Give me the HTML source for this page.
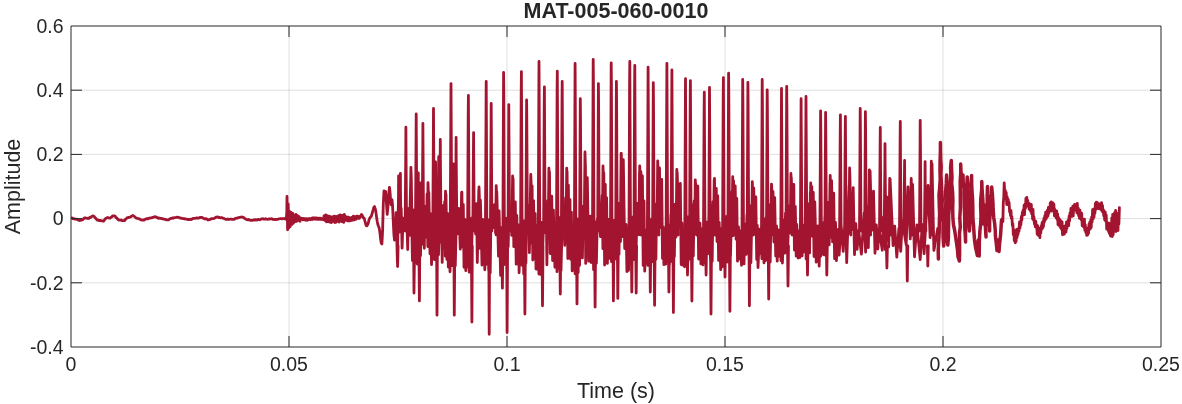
<!DOCTYPE html><html><head><meta charset="utf-8"><title>MAT-005-060-0010</title><style>html,body{margin:0;padding:0;background:#fff;overflow:hidden}svg{display:block}body{font-family:"Liberation Sans",sans-serif}</style></head><body><svg width="1182" height="404" viewBox="0 0 1182 404">
<rect width="1182" height="404" fill="#fff"/>
<path d="M289.0 26 V347 M507.0 26 V347 M725.0 26 V347 M943.0 26 V347 M71 90.2 H1161 M71 154.4 H1161 M71 218.6 H1161 M71 282.8 H1161" stroke="#262626" stroke-opacity="0.15" stroke-width="1" fill="none"/>
<defs><clipPath id="cp"><rect x="71" y="26" width="1090" height="321"/></clipPath></defs><g clip-path="url(#cp)">
<path d="M71.0 217.8 L72.0 217.8 L73.0 218.7 L74.0 218.7 L75.0 219.2 L75.9 219.2 L76.8 219.2 L77.7 219.9 L78.5 219.9 L79.4 220.5 L80.3 220.3 L81.2 220.1 L82.1 219.9 L83.0 219.5 L83.9 218.3 L84.8 217.9 L85.7 218.0 L86.5 218.3 L87.2 218.3 L88.0 218.2 L88.9 218.5 L89.7 217.5 L90.6 217.5 L91.5 216.6 L92.3 216.1 L93.2 215.9 L94.1 216.4 L95.1 217.8 L96.0 218.6 L97.0 219.9 L97.9 220.3 L98.8 220.2 L99.8 220.6 L100.7 220.5 L101.7 220.8 L102.6 221.0 L103.6 221.0 L104.5 219.9 L105.5 218.7 L106.4 218.0 L107.4 217.6 L108.3 217.6 L109.1 218.1 L110.0 218.1 L110.9 217.5 L111.8 216.8 L112.6 215.9 L113.5 215.8 L114.4 215.9 L115.2 216.2 L116.1 217.7 L116.9 218.1 L117.8 219.3 L118.6 220.1 L119.5 220.0 L120.3 220.2 L121.1 220.0 L122.0 220.6 L122.8 220.7 L123.6 220.7 L124.5 220.6 L125.4 219.4 L126.2 218.7 L127.1 217.9 L128.0 217.6 L128.8 217.4 L129.7 217.3 L130.5 217.0 L131.3 216.2 L132.2 216.0 L133.0 215.5 L133.8 216.1 L134.7 216.6 L135.5 217.5 L136.3 218.1 L137.2 218.3 L138.0 218.5 L138.9 218.9 L139.8 218.9 L140.7 219.8 L141.6 220.0 L142.5 220.1 L143.4 220.0 L144.3 220.1 L145.2 219.2 L146.2 218.8 L147.1 218.6 L148.0 218.8 L149.0 218.1 L149.9 218.2 L150.9 217.9 L151.8 217.8 L152.8 217.4 L153.7 217.2 L154.7 216.7 L155.6 216.9 L156.5 217.1 L157.4 217.8 L158.3 218.3 L159.2 218.0 L160.1 218.3 L161.0 218.4 L161.8 218.5 L162.7 218.8 L163.5 219.2 L164.4 219.2 L165.2 219.3 L166.1 219.8 L166.9 219.8 L167.8 219.8 L168.6 219.8 L169.4 219.2 L170.3 218.6 L171.2 218.4 L172.0 218.3 L172.9 217.8 L173.8 218.1 L174.6 217.7 L175.5 217.5 L176.4 217.3 L177.3 217.1 L178.3 217.3 L179.2 217.5 L180.2 218.2 L181.1 218.2 L182.1 218.4 L183.0 218.6 L183.9 218.6 L184.8 218.9 L185.8 219.0 L186.7 219.2 L187.6 219.5 L188.5 219.5 L189.4 219.6 L190.4 219.2 L191.3 219.5 L192.2 219.0 L193.1 218.4 L194.1 218.3 L195.0 218.3 L195.9 218.2 L196.9 217.9 L197.8 218.2 L198.8 218.1 L199.8 217.5 L200.7 217.5 L201.6 217.3 L202.4 217.7 L203.3 218.2 L204.1 218.5 L205.0 219.0 L206.0 218.7 L206.9 219.0 L207.9 220.0 L208.9 219.8 L209.7 219.4 L210.5 219.3 L211.4 218.6 L212.2 218.6 L213.0 218.7 L214.0 218.5 L215.0 217.9 L216.0 217.1 L217.0 217.0 L217.8 216.9 L218.7 217.5 L219.5 217.5 L220.3 217.8 L221.2 217.6 L222.0 217.6 L222.8 218.1 L223.7 218.5 L224.5 218.7 L225.3 219.1 L226.2 219.3 L227.0 219.4 L227.8 219.0 L228.7 219.3 L229.5 219.3 L230.3 219.2 L231.2 219.2 L232.0 219.4 L232.9 219.3 L233.7 219.4 L234.6 219.1 L235.4 218.3 L236.3 218.3 L237.1 218.0 L238.0 217.9 L238.8 217.5 L239.7 217.3 L240.5 217.2 L241.3 217.1 L242.2 217.0 L243.0 217.3 L244.0 217.8 L245.0 218.6 L246.0 219.2 L247.0 219.7 L247.8 219.8 L248.7 219.5 L249.5 220.0 L250.3 220.3 L251.2 220.4 L252.0 220.4 L252.9 220.2 L253.7 219.9 L254.6 220.2 L255.4 219.7 L256.3 219.9 L257.1 220.0 L258.0 219.5 L258.9 219.5 L259.7 219.8 L260.6 219.5 L261.4 218.9 L262.3 218.8 L263.1 218.7 L264.0 219.2 L264.9 219.1 L265.7 218.7 L266.6 219.2 L267.4 219.3 L268.3 219.1 L269.1 218.9 L270.0 219.0 L270.9 218.8 L271.7 218.7 L272.6 219.4 L273.4 219.3 L274.3 219.3 L275.1 219.6 L276.0 219.3 L276.9 219.5 L277.7 219.4 L278.6 218.9 L279.4 218.8 L280.3 218.7 L281.1 218.6 L282.0 218.9 L282.9 218.6 L283.7 218.7 L284.6 218.5 L285.4 219.1 L286.3 218.8 L286.8 212.0 L287.0 196.3 L287.6 229.8 L288.2 204.0 L288.8 228.0 L289.4 211.1 L290.2 226.6 L291.1 212.4 L292.0 224.3 L292.9 213.4 L293.5 223.1 L294.2 215.9 L295.1 221.5 L295.9 214.5 L296.7 221.3 L297.5 215.6 L298.4 220.4 L299.2 216.7 L300.0 221.3 L300.0 218.0 L300.9 219.6 L301.7 218.2 L302.5 219.7 L303.3 218.5 L304.1 219.9 L305.1 218.6 L306.0 220.3 L306.7 218.7 L307.7 220.2 L308.3 218.8 L309.1 219.6 L309.8 218.6 L310.7 219.7 L311.6 218.3 L312.5 219.4 L313.2 217.7 L314.1 219.0 L315.1 217.8 L315.9 219.3 L316.8 217.9 L317.6 219.2 L318.3 218.1 L319.0 219.4 L319.7 218.1 L320.5 219.3 L321.2 218.3 L322.0 219.6 L323.0 218.5 L323.9 219.8 L324.0 216.0 L324.9 220.6 L325.6 214.9 L326.5 221.9 L327.2 215.6 L328.2 221.5 L329.0 216.2 L329.7 222.2 L330.5 216.6 L331.4 222.5 L332.3 217.0 L333.2 221.4 L334.1 216.2 L334.9 222.6 L335.8 216.5 L336.5 222.2 L337.2 216.5 L337.9 220.7 L338.6 215.6 L339.3 222.0 L340.1 214.8 L340.8 220.8 L341.4 215.3 L342.1 221.7 L342.9 215.5 L343.7 222.4 L344.3 214.3 L345.0 216.6 L345.9 220.4 L346.7 216.8 L347.7 220.8 L348.6 217.1 L349.4 221.0 L350.2 218.0 L350.8 220.5 L351.7 217.5 L352.4 220.2 L353.3 216.2 L354.2 220.0 L354.9 216.6 L355.7 219.4 L356.5 216.4 L357.0 215.9 L357.8 218.4 L358.8 216.5 L359.5 218.2 L361.5 214.4 L362.2 215.3 L362.8 216.8 L363.5 218.0 L364.2 218.3 L364.8 220.7 L365.5 223.1 L366.1 225.5 L366.8 225.9 L367.5 225.0 L368.3 223.0 L369.0 220.0 L369.8 218.0 L370.5 217.0 L371.2 216.6 L371.8 214.6 L372.5 212.1 L373.2 209.7 L373.8 207.4 L374.5 206.6 L375.2 208.6 L375.8 211.2 L376.5 216.6 L377.2 221.3 L377.8 224.3 L378.5 226.3 L379.2 228.1 L379.9 232.4 L380.5 238.2 L381.2 242.9 L381.9 243.9 L382.6 230.9 L383.3 204.0 L384.0 190.8 L385.0 196.3 L385.6 191.3 L386.4 202.6 L387.2 214.4 L387.9 207.6 L388.7 194.4 L389.4 187.3 L390.0 191.5 L390.6 200.3 L391.2 204.9 L392.0 199.6 L392.6 206.2 L393.2 220.1 L393.9 234.3 L394.5 240.0 L394.5 221.8 L395.4 239.0 L396.1 212.6 L397.4 262.7 L398.3 206.3 L399.2 232.1 L399.8 206.0 L400.5 224.7 L401.2 208.5 L402.1 248.1 L403.0 218.1 L404.4 227.5 L405.3 216.4 L406.1 228.0 L406.7 215.6 L407.7 249.5 L408.4 208.6 L409.4 235.4 L410.9 171.6 L412.4 260.6 L413.3 209.9 L414.1 283.0 L415.0 219.8 L415.7 262.3 L416.7 207.2 L417.4 264.2 L418.0 204.7 L419.0 261.6 L419.9 223.8 L420.5 255.7 L421.2 214.3 L421.9 244.3 L423.5 210.5 L424.3 248.3 L424.9 206.5 L426.2 237.2 L427.1 194.2 L427.8 246.6 L428.8 192.3 L430.0 253.8 L430.9 213.9 L431.5 264.6 L433.1 218.6 L434.5 259.7 L435.3 201.7 L436.9 263.9 L437.6 218.8 L438.5 254.8 L440.0 205.8 L440.7 242.0 L441.4 206.3 L442.2 262.4 L443.0 205.6 L443.7 242.9 L444.7 201.7 L445.3 256.2 L446.0 194.5 L446.9 259.4 L447.7 213.6 L448.3 267.1 L449.2 222.8 L450.0 271.8 L451.0 224.0 L452.3 265.7 L453.0 222.3 L453.7 265.7 L454.5 222.2 L455.3 265.6 L456.6 208.4 L457.3 233.8 L458.9 208.5 L460.3 249.2 L461.9 192.2 L462.6 247.0 L463.3 204.5 L464.0 267.3 L464.9 219.4 L465.8 270.7 L466.4 227.8 L467.4 266.9 L468.3 222.9 L469.2 272.2 L469.8 218.2 L471.1 272.0 L472.5 217.2 L474.1 226.1 L474.8 206.0 L475.6 234.0 L476.6 203.6 L477.3 262.5 L478.8 189.6 L479.5 248.3 L480.4 200.2 L482.0 265.1 L482.7 219.5 L483.3 263.9 L484.0 225.5 L484.8 269.8 L486.5 226.4 L487.1 264.2 L488.0 219.7 L488.7 270.4 L489.6 221.7 L490.2 273.1 L491.0 213.4 L491.7 226.0 L492.3 209.3 L493.0 227.8 L494.5 204.7 L496.1 234.9 L496.8 191.9 L498.5 256.1 L499.1 210.9 L500.6 275.4 L501.5 227.6 L502.4 288.2 L503.2 226.6 L504.0 264.7 L504.6 222.0 L505.3 263.1 L506.2 218.4 L506.8 272.5 L507.4 217.8 L508.2 246.6 L508.9 213.5 L509.6 226.7 L511.0 206.3 L511.7 235.4 L513.1 178.6 L513.8 246.7 L515.3 201.8 L516.2 264.2 L516.8 215.3 L517.7 263.8 L518.4 224.8 L519.1 272.8 L520.4 227.9 L522.1 265.4 L523.0 222.4 L523.7 274.1 L524.6 220.6 L525.9 263.3 L526.6 214.6 L528.0 225.6 L528.7 205.4 L529.4 252.7 L530.7 177.3 L531.3 243.0 L532.1 185.8 L532.8 260.1 L533.6 200.6 L534.3 258.9 L535.1 213.4 L536.0 269.0 L536.7 225.6 L537.5 269.3 L538.3 224.9 L538.9 274.1 L539.7 220.4 L540.4 274.4 L541.3 222.5 L542.2 265.3 L543.7 218.9 L545.0 232.5 L546.3 205.3 L546.9 264.8 L547.8 200.6 L548.7 226.2 L549.5 171.9 L550.2 253.6 L551.7 196.1 L552.6 260.5 L553.4 210.1 L554.9 267.3 L556.2 230.7 L557.0 271.7 L557.9 223.2 L558.8 268.3 L559.6 217.7 L561.0 270.7 L562.5 212.2 L563.1 223.4 L563.9 205.7 L564.8 245.4 L565.7 198.0 L566.4 226.2 L567.1 171.5 L567.8 258.6 L568.4 185.2 L569.1 257.9 L570.0 199.7 L570.6 259.3 L571.4 212.1 L572.2 270.9 L572.9 229.6 L573.7 265.4 L574.3 228.8 L575.1 273.8 L575.8 223.3 L576.6 272.8 L577.3 219.0 L578.2 272.4 L578.8 221.7 L579.6 265.4 L580.2 211.3 L580.9 227.0 L581.7 207.7 L582.4 257.9 L583.3 206.1 L584.1 238.4 L585.0 151.9 L585.7 263.4 L587.3 177.7 L588.7 261.2 L590.2 216.1 L591.1 262.5 L592.7 228.2 L593.6 269.8 L594.2 222.1 L595.2 264.7 L595.8 222.1 L596.4 263.3 L597.3 219.2 L598.1 223.8 L598.9 212.2 L600.5 236.6 L602.2 195.4 L602.9 248.7 L603.8 173.0 L604.6 265.0 L605.3 184.3 L605.9 262.8 L606.6 197.6 L607.4 263.4 L608.3 219.3 L609.9 258.4 L610.6 228.9 L611.5 261.7 L612.4 221.9 L613.7 255.0 L614.6 220.2 L615.3 259.1 L616.0 211.9 L616.9 254.6 L618.3 203.1 L619.0 254.2 L619.7 204.8 L620.5 241.6 L621.3 153.5 L622.6 236.7 L623.3 159.7 L624.7 248.6 L626.1 224.3 L626.9 271.6 L627.7 228.1 L628.6 270.4 L629.2 227.2 L630.0 257.3 L630.9 222.7 L631.6 263.4 L633.0 216.9 L633.7 259.6 L634.4 210.8 L636.0 253.2 L637.3 203.5 L638.9 234.8 L639.5 172.5 L640.2 230.7 L640.9 171.6 L641.7 234.9 L642.4 175.9 L643.2 265.4 L644.0 200.9 L644.7 271.2 L646.3 230.0 L647.9 265.4 L648.6 226.0 L649.3 264.4 L650.1 220.9 L650.9 262.5 L651.7 218.9 L652.6 261.7 L653.3 212.5 L654.1 253.7 L655.1 204.7 L655.9 259.3 L656.6 203.8 L658.1 230.9 L659.5 167.9 L660.3 227.5 L661.7 179.3 L662.5 258.4 L663.2 226.8 L663.9 264.6 L664.9 229.1 L665.7 264.1 L666.4 228.8 L667.9 260.6 L668.6 225.2 L669.4 264.8 L670.9 214.0 L671.5 261.4 L672.4 207.2 L673.1 257.1 L673.7 205.7 L674.4 256.5 L675.1 204.2 L675.9 237.1 L677.2 172.4 L678.8 227.7 L680.3 183.3 L681.2 264.6 L681.9 223.0 L682.7 265.2 L683.6 230.5 L684.6 266.8 L685.4 228.5 L686.3 257.4 L687.1 224.3 L688.0 261.7 L688.7 216.7 L689.3 259.1 L690.1 212.3 L691.0 251.6 L692.4 204.8 L693.3 256.1 L694.2 200.9 L695.1 226.3 L695.9 184.2 L696.9 232.6 L697.8 186.1 L698.6 259.0 L700.0 223.2 L700.9 263.9 L701.6 229.0 L703.0 264.9 L703.8 226.3 L704.7 262.9 L705.4 223.1 L706.2 262.6 L706.9 222.2 L708.3 253.5 L708.9 211.0 L710.5 259.7 L711.4 205.1 L712.2 261.2 L713.0 201.7 L713.8 235.2 L714.5 178.5 L715.4 233.9 L716.3 188.5 L717.0 241.6 L717.7 195.7 L718.6 260.4 L719.2 222.4 L720.7 269.7 L721.3 228.4 L722.3 266.8 L723.0 225.1 L723.7 256.8 L724.3 225.4 L725.2 256.1 L726.5 216.4 L727.2 262.0 L727.8 214.8 L728.7 260.0 L729.6 207.5 L730.5 255.6 L732.1 191.3 L732.9 235.8 L733.6 180.9 L734.5 231.8 L735.2 185.8 L736.1 239.3 L736.8 198.5 L737.5 261.2 L738.5 226.9 L739.2 259.2 L740.7 230.6 L741.5 265.3 L743.1 224.6 L744.0 263.9 L744.8 224.0 L746.2 254.4 L746.9 214.8 L748.6 252.1 L750.2 205.9 L750.9 262.6 L752.4 184.1 L753.1 232.6 L753.7 187.8 L755.1 233.3 L755.8 196.8 L756.7 259.6 L757.3 225.5 L758.0 267.6 L759.7 229.1 L760.5 253.4 L761.1 229.5 L761.9 258.6 L762.6 223.3 L764.0 262.9 L764.9 218.9 L765.6 260.5 L766.2 217.3 L767.7 258.3 L768.6 204.6 L770.2 262.0 L771.5 184.1 L772.2 230.0 L773.0 191.5 L773.9 242.0 L774.7 197.6 L775.7 256.1 L776.5 225.9 L777.2 261.2 L778.2 229.8 L778.8 256.3 L779.7 231.0 L781.0 260.7 L781.8 228.2 L782.4 263.0 L784.0 220.2 L784.8 253.2 L785.5 213.2 L786.2 250.7 L787.0 206.5 L787.7 248.3 L789.1 206.1 L790.7 230.7 L791.3 177.2 L792.9 234.4 L793.8 184.5 L794.4 250.1 L795.3 206.5 L796.2 256.2 L796.8 224.5 L798.2 258.0 L798.9 231.0 L799.9 257.5 L801.4 224.2 L802.1 255.9 L802.8 225.2 L804.5 251.8 L805.4 211.1 L806.1 259.0 L807.0 205.5 L807.6 258.2 L808.3 203.9 L809.6 252.9 L810.3 192.5 L811.0 230.0 L811.8 186.6 L812.4 236.3 L813.3 192.5 L814.0 256.6 L814.8 201.9 L816.2 262.1 L817.7 225.9 L819.2 266.1 L820.0 229.3 L820.7 256.3 L821.3 225.0 L822.2 254.1 L823.2 222.9 L824.1 254.9 L824.9 215.7 L826.6 254.1 L827.5 202.1 L829.2 244.8 L830.0 182.4 L830.8 237.4 L831.6 180.7 L832.6 241.9 L833.7 193.2 L834.6 258.7 L835.5 222.5 L836.4 260.6 L838.2 229.4 L839.1 255.2 L841.1 224.5 L843.2 251.4 L845.6 209.0 L846.7 262.7 L849.2 185.7 L851.7 229.6 L853.2 187.6 L854.5 254.6 L855.8 223.6 L857.1 249.3 L858.7 230.4 L861.4 254.1 L864.3 212.6 L865.6 252.2 L867.0 206.7 L868.3 247.7 L870.1 171.1 L871.7 230.4 L873.5 191.1 L875.0 253.3 L876.3 224.9 L877.8 249.0 L879.1 229.0 L882.3 250.2 L883.7 216.8 L885.4 249.7 L887.0 197.1 L888.7 247.0 L890.1 179.0 L893.1 245.6 L894.7 226.2 L896.8 257.1 L898.9 228.7 L900.7 251.3 L902.3 220.9 L906.2 244.7 L908.0 186.9 L910.3 238.9 L912.6 184.4 L914.5 256.8 L916.9 224.9 L920.2 259.5 L922.2 224.5 L924.1 253.6 L928.1 185.5 L930.1 237.7 L932.0 163.8 L933.9 250.4 L937.7 228.4 M397.2 246.0 L397.6 266.5 L398.1 246.0 M397.9 231.0 L398.5 196.0 L398.6 176.0 L398.8 196.0 L399.4 231.0 M399.6 231.0 L400.2 193.3 L400.4 173.3 L400.5 193.3 L401.1 231.0 M405.1 231.0 L405.8 147.2 L405.9 127.2 L406.0 147.2 L406.6 231.0 M410.2 233.0 L410.9 167.3 L411.3 178.3 L412.1 235.0 M413.6 246.0 L414.0 293.0 L414.4 246.0 M415.4 231.0 L416.1 134.0 L416.2 114.0 L416.3 134.0 L416.9 231.0 M417.6 231.0 L418.2 193.0 L418.3 173.0 L418.4 193.0 L419.1 231.0 M418.9 246.0 L419.4 300.9 L419.8 246.0 M420.1 231.0 L420.7 203.0 L420.8 183.0 L420.9 203.0 L421.6 231.0 M422.1 231.0 L422.8 143.3 L422.9 123.3 L423.0 143.3 L423.6 231.0 M427.3 233.0 L428.0 182.6 L428.4 193.6 L429.2 235.0 M432.8 231.0 L433.4 128.4 L433.5 108.4 L433.6 128.4 L434.2 231.0 M434.9 231.0 L435.5 182.0 L435.6 162.0 L435.8 182.0 L436.4 231.0 M436.6 246.0 L437.0 315.2 L437.4 246.0 M437.9 231.0 L438.6 176.6 L438.7 156.6 L438.8 176.6 L439.4 231.0 M439.6 231.0 L440.2 159.4 L440.3 139.4 L440.4 159.4 L441.1 231.0 M444.8 233.0 L445.5 191.2 L445.9 202.2 L446.7 235.0 M450.2 231.0 L450.9 103.6 L451.0 83.6 L451.1 103.6 L451.8 231.0 M452.9 231.0 L453.5 184.0 L453.6 164.0 L453.8 184.0 L454.4 231.0 M453.9 246.0 L454.3 315.2 L454.8 246.0 M455.4 231.0 L456.0 157.3 L456.1 137.3 L456.2 157.3 L456.9 231.0 M460.9 233.0 L461.6 192.5 L462.0 203.5 L462.8 235.0 M467.6 231.0 L468.2 115.5 L468.4 95.5 L468.5 115.5 L469.1 231.0 M471.4 246.0 L471.9 322.0 L472.3 246.0 M472.8 231.0 L473.4 152.6 L473.6 132.6 L473.7 152.6 L474.3 231.0 M478.3 233.0 L479.0 187.0 L479.4 198.0 L480.2 235.0 M485.4 231.0 L486.1 101.3 L486.2 81.3 L486.3 101.3 L486.9 231.0 M488.8 246.0 L489.2 334.3 L489.6 246.0 M490.4 231.0 L491.1 123.4 L491.2 103.4 L491.3 123.4 L491.9 231.0 M495.5 233.0 L496.2 185.6 L496.6 196.6 L497.4 235.0 M502.9 231.0 L503.5 92.4 L503.6 72.4 L503.8 92.4 L504.4 231.0 M506.7 246.0 L507.1 332.6 L507.6 246.0 M508.1 231.0 L508.7 124.6 L508.8 104.6 L508.9 124.6 L509.6 231.0 M511.9 233.0 L512.6 176.0 L513.0 187.0 L513.8 235.0 M520.6 231.0 L521.2 91.7 L521.4 71.7 L521.5 91.7 L522.1 231.0 M524.4 246.0 L524.9 314.0 L525.4 246.0 M525.9 231.0 L526.5 119.9 L526.6 99.9 L526.8 119.9 L527.4 231.0 M530.1 233.0 L530.8 174.4 L531.2 185.4 L532.0 235.0 M538.2 231.0 L538.9 81.3 L539.0 61.3 L539.1 81.3 L539.8 231.0 M542.0 246.0 L542.5 305.8 L543.0 246.0 M543.6 231.0 L544.2 106.8 L544.4 86.8 L544.5 106.8 L545.1 231.0 M548.2 233.0 L548.9 168.2 L549.3 179.2 L550.1 235.0 M556.5 231.0 L557.1 91.2 L557.3 71.2 L557.4 91.2 L558.0 231.0 M559.8 246.0 L560.3 294.0 L560.8 246.0 M561.4 231.0 L562.0 101.3 L562.2 81.3 L562.3 101.3 L562.9 231.0 M566.0 233.0 L566.7 168.2 L567.1 179.2 L567.9 235.0 M574.4 231.0 L575.0 83.5 L575.1 63.5 L575.2 83.5 L575.9 231.0 M576.5 246.0 L577.0 303.9 L577.5 246.0 M579.6 231.0 L580.2 118.7 L580.3 98.7 L580.5 118.7 L581.1 231.0 M584.3 233.0 L585.0 154.3 L585.4 165.3 L586.2 235.0 M592.5 231.0 L593.1 79.3 L593.2 59.3 L593.4 79.3 L594.0 231.0 M594.6 246.0 L595.1 307.0 L595.6 246.0 M597.7 231.0 L598.3 103.6 L598.4 83.6 L598.6 103.6 L599.2 231.0 M602.3 233.0 L603.0 165.8 L603.4 176.8 L604.2 235.0 M610.5 231.0 L611.1 82.8 L611.2 62.8 L611.4 82.8 L612.0 231.0 M613.0 246.0 L613.4 300.9 L613.9 246.0 M615.7 231.0 L616.3 101.3 L616.4 81.3 L616.6 101.3 L617.2 231.0 M617.4 246.0 L617.8 298.4 L618.3 246.0 M620.4 233.0 L621.1 153.4 L621.5 164.4 L622.3 235.0 M629.0 231.0 L629.6 81.3 L629.8 61.3 L629.9 81.3 L630.5 231.0 M631.3 246.0 L631.8 292.0 L632.2 246.0 M634.0 231.0 L634.6 85.3 L634.8 65.3 L634.9 85.3 L635.5 231.0 M635.7 246.0 L636.2 293.0 L636.6 246.0 M639.0 233.0 L639.7 165.8 L640.1 176.8 L640.9 235.0 M647.4 231.0 L648.0 87.2 L648.1 67.2 L648.2 87.2 L648.9 231.0 M649.9 246.0 L650.3 292.0 L650.8 246.0 M652.6 231.0 L653.2 102.6 L653.3 82.6 L653.5 102.6 L654.1 231.0 M654.1 246.0 L654.6 305.3 L655.1 246.0 M657.0 233.0 L657.7 160.8 L658.1 171.8 L658.9 235.0 M666.1 231.0 L666.8 83.3 L666.9 63.3 L667.0 83.3 L667.6 231.0 M668.4 246.0 L668.9 292.0 L669.4 246.0 M671.1 231.0 L671.8 90.0 L671.9 70.0 L672.0 90.0 L672.6 231.0 M672.9 246.0 L673.4 312.5 L673.9 246.0 M676.1 233.0 L676.8 169.5 L677.2 180.5 L678.0 235.0 M684.8 231.0 L685.4 98.6 L685.5 78.6 L685.6 98.6 L686.2 231.0 M687.0 246.0 L687.5 275.0 L688.0 246.0 M689.6 231.0 L690.2 100.6 L690.4 80.6 L690.5 100.6 L691.1 231.0 M691.4 246.0 L691.9 301.0 L692.4 246.0 M694.6 233.0 L695.3 179.9 L695.7 190.9 L696.5 235.0 M703.5 231.0 L704.1 112.2 L704.3 92.2 L704.4 112.2 L705.0 231.0 M705.6 246.0 L706.1 275.0 L706.5 246.0 M708.8 231.0 L709.4 107.5 L709.5 87.5 L709.6 107.5 L710.2 231.0 M710.5 246.0 L711.0 314.0 L711.5 246.0 M713.5 233.0 L714.2 179.9 L714.6 190.9 L715.4 235.0 M722.6 231.0 L723.2 97.6 L723.4 77.6 L723.5 97.6 L724.1 231.0 M724.5 246.0 L725.0 277.0 L725.5 246.0 M727.9 231.0 L728.5 93.2 L728.6 73.2 L728.8 93.2 L729.4 231.0 M729.4 246.0 L729.9 311.3 L730.4 246.0 M732.0 233.0 L732.7 176.7 L733.1 187.7 L733.9 235.0 M742.0 231.0 L742.6 99.4 L742.7 79.4 L742.9 99.4 L743.5 231.0 M747.2 231.0 L747.8 102.3 L747.9 82.3 L748.1 102.3 L748.7 231.0 M749.0 246.0 L749.4 305.8 L749.9 246.0 M751.6 233.0 L752.3 181.6 L752.7 192.6 L753.5 235.0 M761.5 231.0 L762.1 99.4 L762.2 79.4 L762.4 99.4 L763.0 231.0 M766.5 231.0 L767.1 109.8 L767.2 89.8 L767.4 109.8 L768.0 231.0 M768.2 246.0 L768.7 299.0 L769.2 246.0 M770.9 233.0 L771.6 184.9 L772.0 195.9 L772.8 235.0 M780.8 231.0 L781.4 108.5 L781.5 88.5 L781.6 108.5 L782.2 231.0 M786.0 231.0 L786.6 106.3 L786.7 86.3 L786.9 106.3 L787.5 231.0 M787.5 246.0 L788.0 286.0 L788.5 246.0 M790.2 233.0 L790.9 173.5 L791.3 184.5 L792.1 235.0 M800.4 231.0 L801.0 118.7 L801.1 98.7 L801.2 118.7 L801.9 231.0 M805.2 231.0 L805.9 116.4 L806.0 96.4 L806.1 116.4 L806.8 231.0 M807.0 246.0 L807.5 275.0 L808.0 246.0 M810.0 233.0 L810.7 182.9 L811.1 193.9 L811.9 235.0 M819.9 231.0 L820.5 130.8 L820.6 110.8 L820.8 130.8 L821.4 231.0 M824.9 231.0 L825.5 132.5 L825.6 112.5 L825.8 132.5 L826.4 231.0 M826.4 246.0 L826.8 275.0 L827.3 246.0 M829.5 233.0 L830.2 175.5 L830.6 186.5 L831.4 235.0 M839.6 231.0 L840.2 134.8 L840.4 114.8 L840.5 134.8 L841.1 231.0 M844.6 231.0 L845.2 136.5 L845.4 116.5 L845.5 136.5 L846.1 231.0 M848.9 233.0 L849.6 168.0 L850.0 179.0 L850.8 235.0 M859.5 231.0 L860.1 128.5 L860.2 108.5 L860.4 128.5 L861.0 231.0 M864.7 231.0 L865.3 131.6 L865.4 111.6 L865.6 131.6 L866.2 231.0 M868.7 233.0 L869.4 169.8 L869.8 180.8 L870.6 235.0 M879.5 231.0 L880.1 147.5 L880.3 127.5 L880.4 147.5 L881.0 231.0 M884.2 231.0 L884.9 163.6 L885.0 143.6 L885.1 163.6 L885.8 231.0 M886.4 246.0 L886.9 268.0 L887.4 246.0 M889.0 233.0 L889.7 178.5 L890.1 189.5 L890.9 235.0 M899.5 231.0 L900.1 141.5 L900.3 121.5 L900.4 141.5 L901.0 231.0 M903.8 231.0 L904.4 180.4 L904.6 160.4 L904.7 180.4 L905.3 231.0 M906.8 246.0 L907.3 281.0 L907.8 246.0 M910.5 233.0 L911.2 178.5 L911.6 189.5 L912.4 235.0 M919.5 231.0 L920.1 140.3 L920.2 120.3 L920.4 140.3 L921.0 231.0 M924.4 231.0 L925.0 181.6 L925.1 161.6 L925.2 181.6 L925.9 231.0 M927.4 246.0 L927.8 266.0 L928.3 246.0 M930.6 233.0 L931.3 161.1 L931.7 172.1 L932.5 235.0 M1002.4 218.3 L1002.9 221.5 L1003.3 202.8 L1003.8 196.4 L1004.2 182.9 L1004.7 192.8 L1005.2 190.1 L1005.7 198.5 L1006.2 192.5 L1006.7 204.5 L1007.2 197.0 L1007.7 204.5 L1008.2 199.3 L1008.7 204.8 L1009.1 202.4 L1009.6 212.0 L1010.0 209.7 L1010.5 215.7 L1011.0 210.5 L1011.4 218.4 L1011.9 216.9 L1012.4 225.7 L1012.9 223.7 L1013.3 234.8 L1013.8 229.7 L1014.3 240.7 L1014.7 232.4 L1015.2 242.8 L1015.7 236.7 L1016.1 241.5 L1016.6 229.5 L1017.1 237.5 L1017.5 229.6 L1018.0 234.5 L1018.5 228.3 L1019.0 231.1 L1019.5 222.0 L1020.0 227.8 L1020.5 222.4 L1020.9 224.7 L1021.4 216.3 L1021.8 220.1 L1022.3 212.3 L1022.7 214.7 L1023.2 209.9 L1023.7 214.9 L1024.1 205.2 L1024.5 214.6 L1025.0 204.2 L1025.5 208.2 L1025.9 198.4 L1026.3 204.6 L1026.8 197.4 L1027.3 206.0 L1027.7 200.4 L1028.2 206.2 L1028.7 203.5 L1029.1 209.1 L1029.6 203.7 L1030.0 209.9 L1030.4 204.6 L1030.8 211.7 L1031.3 204.4 L1031.7 213.9 L1032.1 209.3 L1032.6 219.0 L1033.0 209.4 L1033.5 220.2 L1033.9 216.6 L1034.4 224.0 L1034.8 220.4 L1035.3 226.8 L1035.8 221.1 L1036.2 227.3 L1036.7 224.9 L1037.2 234.3 L1037.6 225.6 L1038.1 235.3 L1038.5 231.0 L1039.0 235.2 L1039.4 231.1 L1039.9 237.7 L1040.3 227.8 L1040.8 232.9 L1041.2 225.8 L1041.6 229.3 L1042.1 222.7 L1042.5 228.4 L1043.0 221.4 L1043.4 226.7 L1043.9 218.5 L1044.3 222.2 L1044.8 215.6 L1045.2 220.2 L1045.7 212.1 L1046.2 218.6 L1046.6 213.7 L1047.1 217.0 L1047.5 210.2 L1048.0 216.0 L1048.4 207.4 L1048.9 213.1 L1049.4 207.4 L1049.8 211.0 L1050.3 202.8 L1050.7 210.6 L1051.2 202.0 L1051.6 211.2 L1052.1 203.5 L1052.5 210.1 L1053.0 202.9 L1053.5 210.2 L1053.9 204.2 L1054.4 215.9 L1054.8 209.3 L1055.3 215.9 L1055.7 212.2 L1056.2 218.0 L1056.7 210.9 L1057.1 219.3 L1057.6 214.0 L1058.0 224.8 L1058.5 217.5 L1058.9 224.9 L1059.4 218.9 L1059.8 226.3 L1060.3 220.6 L1060.7 227.9 L1061.2 220.9 L1061.6 229.4 L1062.1 221.8 L1062.5 234.8 L1062.9 227.1 L1063.4 233.8 L1063.8 226.3 L1064.3 234.2 L1064.7 228.8 L1065.1 232.3 L1065.6 225.5 L1066.0 232.0 L1066.5 221.8 L1066.9 228.4 L1067.3 221.6 L1067.8 224.5 L1068.2 220.1 L1068.7 225.7 L1069.1 216.1 L1069.6 220.8 L1070.0 212.9 L1070.5 216.9 L1070.9 208.5 L1071.4 213.4 L1071.9 208.5 L1072.3 216.3 L1072.8 206.2 L1073.2 215.8 L1073.7 206.6 L1074.1 209.7 L1074.6 204.3 L1075.0 209.9 L1075.5 205.1 L1075.9 210.2 L1076.4 204.5 L1076.8 212.7 L1077.3 203.4 L1077.7 213.4 L1078.2 208.0 L1078.6 215.7 L1079.1 211.7 L1079.5 218.4 L1079.9 210.2 L1080.4 218.2 L1080.8 214.1 L1081.3 219.8 L1081.7 213.1 L1082.2 225.8 L1082.6 220.0 L1083.1 226.3 L1083.5 219.5 L1084.0 227.5 L1084.4 219.1 L1084.9 230.5 L1085.3 224.8 L1085.8 232.3 L1086.3 228.5 L1086.7 235.3 L1087.2 230.0 L1087.6 235.0 L1088.1 227.8 L1088.5 233.4 L1089.0 224.1 L1089.4 228.6 L1089.8 222.2 L1090.3 229.0 L1090.7 219.8 L1091.2 227.4 L1091.6 217.1 L1092.1 222.0 L1092.6 209.6 L1093.1 218.9 L1093.5 209.1 L1094.0 217.1 L1094.5 209.6 L1094.9 213.2 L1095.4 203.3 L1095.9 209.3 L1096.3 202.1 L1096.8 208.7 L1097.2 202.3 L1097.7 208.0 L1098.1 203.6 L1098.5 208.5 L1099.0 204.0 L1099.4 208.3 L1099.8 203.8 L1100.3 209.2 L1100.7 205.0 L1101.1 209.6 L1101.6 202.7 L1102.0 211.3 L1102.5 205.3 L1102.9 212.5 L1103.4 209.6 L1103.8 216.0 L1104.3 213.0 L1104.7 220.0 L1105.2 211.8 L1105.7 221.1 L1106.2 215.0 L1106.7 229.1 L1107.1 222.3 L1107.6 229.4 L1108.1 225.8 L1108.6 231.6 L1109.0 223.2 L1109.5 233.6 L1110.0 228.0 L1110.5 236.0 L1110.9 225.6 L1111.4 231.0 L1111.8 217.8 L1112.3 236.5 L1112.7 214.3 L1113.2 234.6 L1113.7 215.8 L1114.1 228.7 L1114.6 212.6 L1115.1 231.1 L1115.6 210.5 L1116.0 231.5 L1116.5 214.7 L1117.0 227.1 L1117.5 214.4 L1118.0 230.5 L1118.4 213.0 L1118.9 224.0 L1119.4 207.6" stroke="#a2142f" stroke-width="2.8" fill="none" stroke-linejoin="round" stroke-linecap="round"/>
<path d="M938.4 259.0 L938.2 250.3 L938.8 239.8 L939.2 231.6 L939.3 224.2 L939.6 213.3 L939.3 206.5 L939.0 194.9 L939.7 187.3 L940.2 179.2 L940.0 170.9 L940.1 160.5 L940.4 151.1 L940.4 142.5 L940.5 150.8 L940.7 160.0 L941.2 166.7 L940.9 174.3 L941.4 183.0 L941.7 192.0 L942.3 198.8 L942.0 207.3 L942.3 215.0 L943.1 222.3 L943.0 231.4 L943.1 237.7 L943.7 246.0 L944.5 238.1 L944.4 227.1 L945.1 219.9 L945.4 212.0 L945.9 201.4 L945.6 192.1 L946.2 183.9 L946.6 175.0 L946.5 182.8 L947.0 192.8 L946.9 202.7 L947.3 208.6 L947.3 219.6 L947.3 228.1 L947.2 235.7 L947.8 245.0 L948.4 237.8 L948.5 229.1 L948.6 222.7 L948.7 215.4 L949.2 209.0 L949.5 200.0 L949.9 191.8 L949.9 183.2 L950.8 175.1 L950.6 167.4 L951.3 160.5 L951.6 169.5 L952.0 177.5 L951.7 183.2 L952.6 192.2 L952.9 200.4 L952.7 208.2 L952.9 218.1 L953.5 225.0 L954.6 230.0 L955.5 236.0 L956.5 242.7 L957.5 250.0 L958.0 256.7 L959.4 261.0 L959.6 253.6 L959.6 243.7 L959.5 233.2 L960.3 226.8 L959.8 218.1 L960.4 207.5 L960.3 200.7 L960.3 191.8 L960.2 181.3 L960.8 172.0 L960.7 164.0 L961.0 172.5 L961.7 179.5 L962.2 186.0 L962.4 179.5 L963.0 175.0 L963.2 181.6 L964.0 189.4 L964.0 196.3 L964.2 205.0 L964.5 212.1 L964.7 218.5 L964.7 228.2 L965.2 233.8 L965.6 242.0 L965.5 233.2 L965.8 224.4 L966.3 217.1 L966.1 210.1 L966.2 200.7 L967.1 192.1 L966.9 186.1 L967.2 177.0 L967.8 183.7 L967.7 193.1 L968.0 201.5 L968.2 209.2 L968.8 214.8 L969.0 222.2 L969.4 231.0 L969.9 222.4 L970.4 215.4 L970.2 206.5 L970.8 198.4 L971.3 190.2 L971.3 183.6 L971.6 175.5 L971.7 184.6 L972.1 192.5 L972.6 199.7 L972.8 207.3 L972.9 217.8 L973.5 225.0 L974.0 232.8 L974.5 239.9 L975.5 247.0 L977.4 255.5 L977.7 247.8 L978.3 240.0 L978.6 246.7 L979.2 256.0 L979.3 246.9 L979.4 240.1 L979.9 230.9 L980.7 223.7 L981.0 215.7 L980.6 205.7 L980.8 198.6 L981.7 189.3 L981.8 181.5 L982.1 190.5 L982.7 197.7 L983.2 206.6 L983.4 214.5 L983.6 224.0 L983.6 218.9 L984.5 212.0 L984.6 205.0 L984.5 211.6 L985.0 220.1 L985.5 228.6 L986.0 237.0 L985.8 228.0 L986.6 219.2 L987.1 212.0 L987.2 202.6 L987.2 195.5 L987.5 186.5 L987.8 193.9 L988.6 205.1 L988.6 211.8 L989.5 222.4 L989.6 231.0 L989.6 221.4 L990.1 214.3 L990.6 205.8 L991.5 194.6 L991.7 187.0 L992.4 194.4 L993.0 203.5 L993.1 209.0 L993.8 218.0 L994.7 223.8 L995.3 230.6 L995.4 236.0 L996.4 244.3 L997.0 250.6 L997.6 245.2 L998.0 240.0 L998.1 246.3 L999.0 251.5 L999.6 243.7 L1000.6 234.6 L1001.1 226.5 L1001.5 220.0" stroke="#a2142f" stroke-width="3.5" fill="none" stroke-linejoin="round" stroke-linecap="round"/>
</g>
<path d="M71 26 H1161 V347 H71 Z M289.0 347 v-11 M289.0 26 v11 M507.0 347 v-11 M507.0 26 v11 M725.0 347 v-11 M725.0 26 v11 M943.0 347 v-11 M943.0 26 v11 M71 90.2 h11 M1161 90.2 h-11 M71 154.4 h11 M1161 154.4 h-11 M71 218.6 h11 M1161 218.6 h-11 M71 282.8 h11 M1161 282.8 h-11" stroke="#262626" stroke-width="1" fill="none"/>
<g font-family="Liberation Sans, sans-serif" fill="#262626" style="filter:grayscale(1)">
<text x="71.0" y="371.2" font-size="19.5" text-anchor="middle">0</text>
<text x="289.0" y="371.2" font-size="19.5" text-anchor="middle">0.05</text>
<text x="507.0" y="371.2" font-size="19.5" text-anchor="middle">0.1</text>
<text x="725.0" y="371.2" font-size="19.5" text-anchor="middle">0.15</text>
<text x="943.0" y="371.2" font-size="19.5" text-anchor="middle">0.2</text>
<text x="1161.0" y="371.2" font-size="19.5" text-anchor="middle">0.25</text>
<text x="63.5" y="32.7" font-size="19.5" text-anchor="end">0.6</text>
<text x="63.5" y="96.9" font-size="19.5" text-anchor="end">0.4</text>
<text x="63.5" y="161.1" font-size="19.5" text-anchor="end">0.2</text>
<text x="63.5" y="225.3" font-size="19.5" text-anchor="end">0</text>
<text x="63.5" y="289.5" font-size="19.5" text-anchor="end">-0.2</text>
<text x="63.5" y="353.7" font-size="19.5" text-anchor="end">-0.4</text>
<text x="616" y="397.8" font-size="21.5" text-anchor="middle">Time (s)</text>
<text x="616" y="17.9" font-size="21.5" font-weight="bold" text-anchor="middle">MAT-005-060-0010</text>
<text transform="translate(20.2 186.5) rotate(-90)" font-size="21.5" text-anchor="middle">Amplitude</text>
</g></svg></body></html>
